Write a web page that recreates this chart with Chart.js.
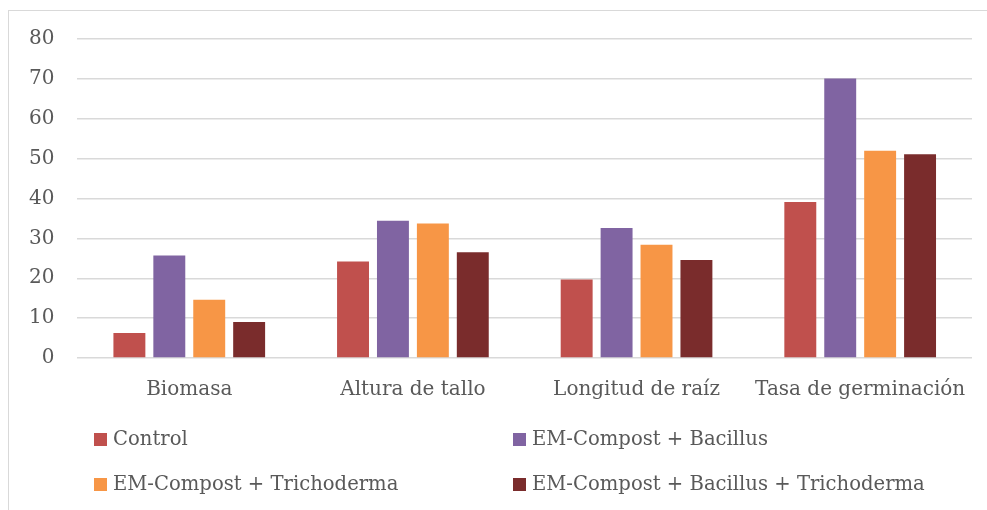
<!DOCTYPE html>
<html>
<head>
<meta charset="utf-8">
<script src="https://cdn.jsdelivr.net/npm/chart.js@4.4.1/dist/chart.umd.min.js"></script>
<style>
  html, body { margin: 0; padding: 0; background: #fff; }
  #wrap { position: relative; width: 987px; height: 510px; overflow: hidden; }
  #frame { position: absolute; left: 8px; top: 10px; width: 990px; height: 520px; border: 1px solid #d9d9d9; box-sizing: border-box; }
  #barChart { position: absolute; left: 0; top: 0; }
  .legend-item { position: absolute; display: flex; align-items: center; font-family: 'DejaVu Serif', serif; font-size: 19.6px; color: #595959; white-space: nowrap; line-height: 24px; }
  .legend-box { width: 13px; height: 13px; margin-right: 6px; }
</style>
</head>
<body>
<div id="wrap">
  <div id="frame"></div>
  <canvas id="barChart" width="987" height="510"></canvas>
  <div id="legend"></div>
</div>
<script>
/* Global Variables */
let categories = ['Biomasa', 'Altura de tallo', 'Longitud de raíz', 'Tasa de germinación'];
let seriesNames = [
  'Control',
  'EM-Compost + Bacillus',
  'EM-Compost + Trichoderma',
  'EM-Compost + Bacillus + Trichoderma',
];
let control = [6.3, 24.2, 19.7, 39.1];
let bacillus = [25.7, 34.4, 32.6, 70.1];
let trichoderma = [14.6, 33.7, 28.4, 52.0];
let bacillusTrichoderma = [9.0, 26.5, 24.6, 51.1];
let yTicks = [0, 10, 20, 30, 40, 50, 60, 70, 80];
let colorHex = ['#C0504D', '#8064A2', '#F79646', '#7A2C2C'];

// legend slots: [left of box, vertical centre]
let legendPos = [[94, 439], [513, 439], [94, 484], [513, 484]];

let fontFamily = "'DejaVu Serif', serif";
let textColor = '#595959';

//-----------------------------------------------//
/* Grouped Bar Chart */
//-----------------------------------------------//
function barChart() {
  let ctx = document.getElementById('barChart').getContext('2d');
  let values = [control, bacillus, trichoderma, bacillusTrichoderma];

  let chart = new Chart(ctx, {
    type: 'bar',
    data: {
      labels: categories,
      datasets: seriesNames.map((name, i) => ({
        label: name,
        data: values[i],
        backgroundColor: colorHex[i],
        borderWidth: 0,
        barPercentage: 0.8,
        categoryPercentage: 0.714,
      })),
    },
    options: {
      responsive: false,
      animation: false,
      layout: {
        padding: { left: 6, right: 15, top: 39, bottom: 96 },
      },
      plugins: {
        legend: { display: false },
        tooltip: { enabled: false },
      },
      scales: {
        x: {
          grid: { display: false },
          border: { display: false },
          ticks: {
            color: textColor,
            font: { family: fontFamily, size: 20 },
            padding: 12,
            maxRotation: 0,
            autoSkip: false,
          },
        },
        y: {
          min: 0,
          max: 80,
          afterBuildTicks: (axis) => {
            axis.ticks = yTicks.map((v) => ({ value: v }));
          },
          grid: { color: '#d9d9d9', lineWidth: 1.5, drawTicks: false },
          border: { display: false },
          ticks: {
            color: textColor,
            font: { family: fontFamily, size: 20 },
            padding: 23,
          },
        },
      },
    },
  });

  buildLegend(chart);
}

function buildLegend(chart) {
  let holder = document.getElementById('legend');
  chart.data.datasets.forEach((ds, i) => {
    let item = document.createElement('div');
    item.className = 'legend-item';
    item.style.left = legendPos[i][0] + 'px';
    item.style.top = legendPos[i][1] - 12 + 'px';
    let box = document.createElement('span');
    box.className = 'legend-box';
    box.style.background = ds.backgroundColor;
    let text = document.createElement('span');
    text.textContent = ds.label;
    item.appendChild(box);
    item.appendChild(text);
    holder.appendChild(item);
  });
}

barChart();
</script>
</body>
</html>
